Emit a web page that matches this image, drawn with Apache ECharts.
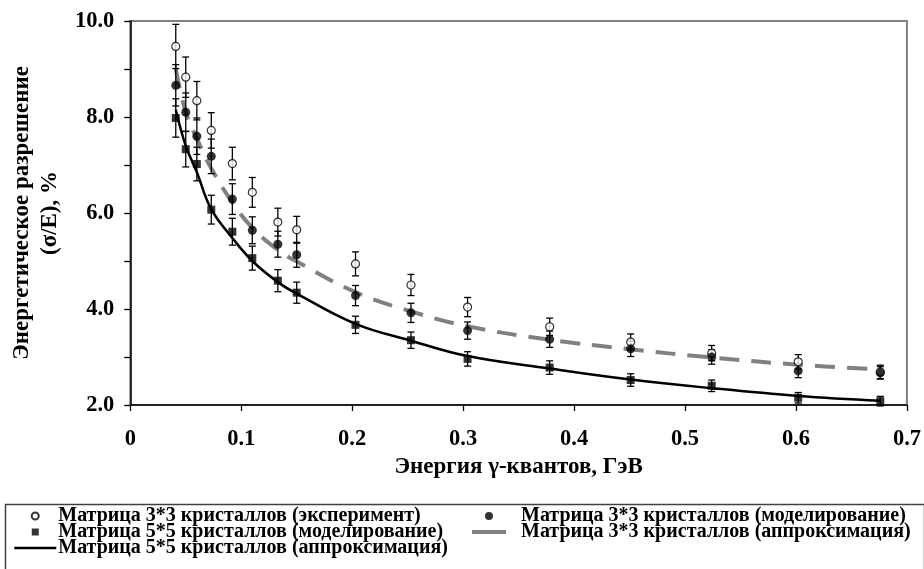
<!DOCTYPE html>
<html>
<head>
<meta charset="utf-8">
<script src="https://cdn.jsdelivr.net/npm/echarts@6/dist/echarts.min.js"></script>
<style>
html,body{margin:0;padding:0;background:#fff;}
#chart{width:924px;height:569px;}
</style>
</head>
<body>
<div id="chart"></div>
<script>
// ---- data ----
const energy   = [0.041, 0.050, 0.060, 0.073, 0.092, 0.110, 0.133, 0.150, 0.203, 0.253, 0.304, 0.378, 0.451, 0.524, 0.602, 0.676];
const exp33    = [9.47, 8.83, 8.34, 7.72, 7.03, 6.43, 5.81, 5.65, 4.94, 4.50, 4.04, 3.63, 3.31, 3.08, 2.90, 2.69];
const errExp33 = [0.46, 0.42, 0.40, 0.37, 0.34, 0.31, 0.29, 0.28, 0.25, 0.22, 0.20, 0.18, 0.17, 0.16, 0.15, 0.14];
const sim33    = [8.66, 8.10, 7.60, 7.18, 6.29, 5.64, 5.35, 5.13, 4.28, 3.92, 3.55, 3.37, 3.17, 3.00, 2.71, 2.67];
const errSim33 = [0.43, 0.40, 0.38, 0.36, 0.32, 0.28, 0.27, 0.26, 0.21, 0.20, 0.18, 0.17, 0.16, 0.15, 0.14, 0.13];
const sim55    = [7.98, 7.33, 7.02, 6.07, 5.61, 5.06, 4.59, 4.34, 3.67, 3.35, 2.96, 2.78, 2.52, 2.40, 2.15, 2.08];
const errSim55 = [0.40, 0.37, 0.35, 0.30, 0.28, 0.25, 0.23, 0.22, 0.18, 0.17, 0.15, 0.14, 0.13, 0.12, 0.11, 0.10];
const fit33    = [9.00, 8.10, 7.55, 6.93, 6.22, 5.69, 5.23, 4.99, 4.35, 3.95, 3.64, 3.36, 3.16, 2.99, 2.84, 2.74];
const fit55    = [8.15, 7.40, 6.85, 6.08, 5.48, 5.00, 4.56, 4.32, 3.69, 3.34, 3.02, 2.76, 2.53, 2.35, 2.19, 2.09];

const nameExp33 = 'Матрица 3*3 кристаллов (эксперимент)';
const nameSim33 = 'Матрица 3*3 кристаллов (моделирование)';
const nameSim55 = 'Матрица 5*5 кристаллов (моделирование)';
const nameFit33 = 'Матрица 3*3 кристаллов (аппроксимация)';
const nameFit55 = 'Матрица 5*5 кристаллов (аппроксимация)';
const xAxisTitle = 'Энергия γ-квантов, ГэВ';
const yAxisTitle = 'Энергетическое разрешение\n(σ/E), %';

// ---- helpers ----
const pairs = (ys) => energy.map((x, i) => [x, ys[i]]);
const bars = (ys, es) => energy.map((x, i) => [x, ys[i] - es[i], ys[i] + es[i]]);
const FONT = 'Liberation Serif, Times New Roman, serif';

function errRender(params, api) {
  const x = api.value(0), lo = api.value(1), hi = api.value(2);
  const p1 = api.coord([x, hi]);
  const p2 = api.coord([x, lo]);
  const w = 3.5;
  const st = { stroke: '#000', lineWidth: 1.3 };
  return {
    type: 'group',
    children: [
      { type: 'line', shape: { x1: p1[0], y1: p1[1], x2: p2[0], y2: p2[1] }, style: st },
      { type: 'line', shape: { x1: p1[0] - w, y1: p1[1], x2: p1[0] + w, y2: p1[1] }, style: st },
      { type: 'line', shape: { x1: p2[0] - w, y1: p2[1], x2: p2[0] + w, y2: p2[1] }, style: st }
    ]
  };
}

const chart = echarts.init(document.getElementById('chart'), null, { renderer: 'canvas' });
const legendText = { fontFamily: FONT, fontWeight: 'bold', fontSize: 20, color: '#000' };
const hideSym = { color: 'rgba(0,0,0,0)', borderWidth: 0 };

chart.setOption({
  animation: false,
  backgroundColor: '#fff',
  grid: { left: 127, right: 15, top: 21, bottom: 164, show: true, borderColor: '#808080', borderWidth: 2 },
  xAxis: {
    type: 'value', min: 0, max: 0.7, interval: 0.1,
    name: xAxisTitle, nameLocation: 'middle', nameGap: 40,
    nameTextStyle: { fontFamily: FONT, fontWeight: 'bold', fontSize: 23, color: '#000' },
    axisLine: { show: true, onZero: false, lineStyle: { color: '#000', width: 1.5 } },
    axisTick: { show: true, inside: false, length: 6, lineStyle: { color: '#000', width: 1.3 } },
    axisLabel: { margin: 23, fontFamily: FONT, fontWeight: 'bold', fontSize: 22.5, color: '#000',
      formatter: (v) => (Math.abs(v) < 1e-9 ? '0' : v.toFixed(1)) },
    splitLine: { show: false }
  },
  yAxis: {
    type: 'value', min: 2, max: 10, interval: 1,
    name: yAxisTitle, nameLocation: 'middle', nameGap: 62, nameRotate: 90,
    nameTextStyle: { fontFamily: FONT, fontWeight: 'bold', fontSize: 23, color: '#000', lineHeight: 28 },
    axisLine: { show: true, onZero: false, lineStyle: { color: '#000', width: 1.5 } },
    axisTick: { show: true, inside: false, length: 6, lineStyle: { color: '#000', width: 1.3 } },
    axisLabel: { margin: 16, fontFamily: FONT, fontWeight: 'bold', fontSize: 22.5, color: '#000',
      formatter: (v) => (Math.round(v) % 2 === 0 ? v.toFixed(1) : '') },
    splitLine: { show: false }
  },
  legend: [
    {
      data: [
        { name: nameExp33 },
        { name: nameSim55, icon: 'path://M0,0 L10,0 L10,10 L0,10 Z' },
        { name: nameFit55, itemStyle: hideSym, lineStyle: { type: 'solid', width: 2.5 } }
      ],
      orient: 'vertical', left: 13, top: 506, itemGap: -4, itemWidth: 42, itemHeight: 7,
      symbolKeepAspect: true,
      textStyle: Object.assign({}, legendText, { padding: [0, 0, 0, -3] }), padding: 0
    },
    {
      data: [
        { name: nameSim33 },
        { name: nameFit33, itemStyle: hideSym, lineStyle: { type: 'solid', width: 4 } }
      ],
      orient: 'vertical', left: 470, top: 506, itemGap: -4, itemWidth: 34, itemHeight: 8,
      textStyle: Object.assign({}, legendText, { padding: [0, 0, 0, 10] }), padding: 0
    }
  ],
  graphic: [
    { type: 'rect', left: 3, top: 502, z: -1, shape: { width: 919, height: 80 },
      style: { fill: 'none', stroke: '#404040', lineWidth: 1.5 } }
  ],
  series: [
    { name: nameFit33, type: 'line', data: pairs(fit33), smooth: 0.4, symbol: 'none', z: 2,
      lineStyle: { color: '#808080', width: 4, type: [20, 12], cap: 'butt' }, itemStyle: { color: '#808080' } },
    { name: nameFit55, type: 'line', data: pairs(fit55), smooth: 0.4, symbol: 'none', z: 2,
      lineStyle: { color: '#000', width: 2.5 }, itemStyle: { color: '#000' } },
    { name: 'err-exp33', type: 'custom', renderItem: errRender, data: bars(exp33, errExp33), encode: { x: 0, y: [1, 2] }, z: 3 },
    { name: 'err-sim33', type: 'custom', renderItem: errRender, data: bars(sim33, errSim33), encode: { x: 0, y: [1, 2] }, z: 3 },
    { name: 'err-sim55', type: 'custom', renderItem: errRender, data: bars(sim55, errSim55), encode: { x: 0, y: [1, 2] }, z: 3 },
    { name: nameExp33, type: 'scatter', data: pairs(exp33), symbol: 'circle', symbolSize: 8, z: 4,
      itemStyle: { color: '#fff', borderColor: '#000', borderWidth: 1.2 } },
    { name: nameSim33, type: 'scatter', data: pairs(sim33), symbol: 'circle', symbolSize: 9, z: 5,
      itemStyle: { color: '#000' } },
    { name: nameSim55, type: 'scatter', data: pairs(sim55), symbol: 'rect', symbolSize: 8, z: 5,
      itemStyle: { color: '#000' } }
  ]
});
</script>
</body>
</html>
